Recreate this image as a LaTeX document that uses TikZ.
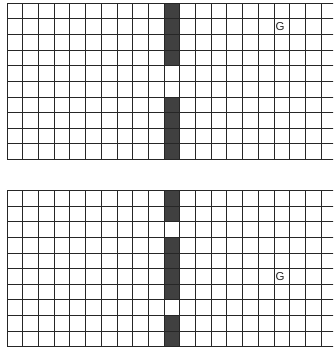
\documentclass[tikz,border=0pt]{standalone}
\usepackage{fontspec}
\setmainfont{Liberation Sans}
\begin{document}
\begin{tikzpicture}[x=1pt,y=-1pt,
  gridline/.style={draw=black!85,line width=0.8pt},
  wall/.style={fill=black!75},
  goal/.style={font=\fontsize{11.5}{12}\selectfont,inner sep=0pt,text=black!85}]
\useasboundingbox (0,0) rectangle (333,351);
\clip (0,0) rectangle (333,351);
\def\cw{15.7}
\def\ch{15.65}
% ---------- top grid ----------
\begin{scope}[shift={(7,3)}]
  \foreach \r in {0,1,2,3,6,7,8,9}
    \fill[wall] (10*\cw,\r*\ch) rectangle (11*\cw,\r*\ch+\ch);
  \foreach \i in {0,...,20}
    \draw[gridline] (\i*\cw,0) -- (\i*\cw,10*\ch);
  \foreach \j in {0,...,10}
    \draw[gridline] (0,\j*\ch) -- (340,\j*\ch);
  \node[goal] (g1) at (17.4*\cw,1.5*\ch) {G};
\end{scope}
% ---------- bottom grid ----------
\begin{scope}[shift={(7,190.3)}]
  \foreach \r in {0,1,3,4,5,6,8,9}
    \fill[wall] (10*\cw,\r*\ch) rectangle (11*\cw,\r*\ch+\ch);
  \foreach \i in {0,...,20}
    \draw[gridline] (\i*\cw,0) -- (\i*\cw,10*\ch);
  \foreach \j in {0,...,10}
    \draw[gridline] (0,\j*\ch) -- (340,\j*\ch);
  \node[goal] (g2) at (17.4*\cw,5.5*\ch) {G};
\end{scope}
\end{tikzpicture}
\end{document}
